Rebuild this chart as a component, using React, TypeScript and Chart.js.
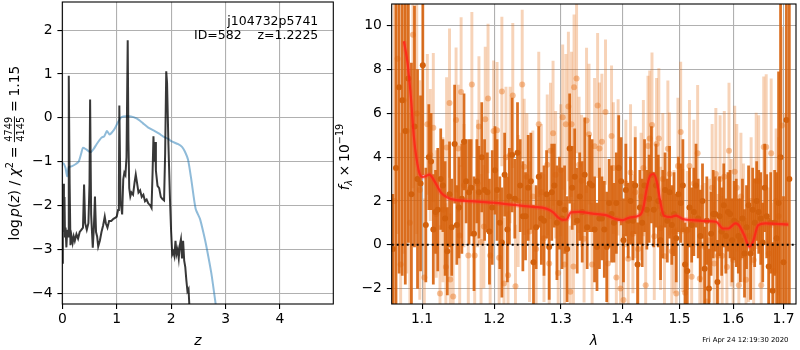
import React, { useEffect, useRef } from 'react';
import { Chart, registerables } from 'chart.js';

Chart.register(...registerables);

const FONT = "'DejaVu Sans'";
const S = 13.9;

// ---------- left panel data ----------
const pzZ = [0.000, 0.010, 0.020, 0.030, 0.040, 0.050, 0.060, 0.075, 0.090, 0.105, 0.115, 0.123, 0.135, 0.150, 0.170, 0.190, 0.210, 0.230, 0.260, 0.290, 0.320, 0.350, 0.380, 0.400, 0.420, 0.450, 0.480, 0.500, 0.511, 0.530, 0.560, 0.580, 0.600, 0.620, 0.640, 0.660, 0.690, 0.720, 0.750, 0.780, 0.800, 0.830, 0.860, 0.900, 0.940, 0.970, 1.000, 1.025, 1.040, 1.048, 1.070, 1.100, 1.120, 1.140, 1.160, 1.180, 1.202, 1.215, 1.230, 1.250, 1.270, 1.300, 1.330, 1.350, 1.370, 1.400, 1.430, 1.460, 1.490, 1.520, 1.550, 1.580, 1.610, 1.640, 1.660, 1.675, 1.690, 1.705, 1.720, 1.750, 1.780, 1.810, 1.840, 1.870, 1.890, 1.910, 1.925, 1.950, 1.980, 2.000, 2.020, 2.040, 2.060, 2.080, 2.100, 2.120, 2.140, 2.160, 2.180, 2.200, 2.220, 2.240, 2.260, 2.280, 2.300, 2.320, 2.340];
const pzLog = [-3.30, -2.20, -1.50, -2.60, -1.80, -2.70, -2.50, -2.95, -2.55, -2.70, -1.00, 0.96, -1.50, -2.90, -2.70, -2.85, -2.70, -2.80, -2.65, -2.75, -2.60, -2.55, -2.50, -1.52, -2.40, -2.55, -2.40, -1.50, 0.42, -2.20, -2.96, -2.50, -1.79, -2.60, -2.70, -2.93, -2.80, -2.60, -2.45, -2.25, -2.40, -2.50, -2.35, -2.35, -2.30, -2.28, -2.25, -2.10, -1.60, 0.28, -1.90, -2.20, -1.40, -1.25, -1.30, -0.90, 1.77, -0.50, -1.60, -1.79, -1.70, -1.75, -1.45, -1.29, -1.45, -1.70, -1.65, -1.80, -1.75, -1.90, -1.86, -1.95, -1.98, -2.05, -1.20, -0.42, -1.00, -0.55, -1.20, -1.55, -1.60, -1.80, -1.85, -1.88, -0.80, 1.06, 0.80, -0.60, -1.90, -2.60, -3.11, -3.05, -3.15, -2.80, -3.10, -3.00, -3.20, -2.90, -2.77, -3.20, -2.80, -3.25, -3.40, -3.70, -3.95, -3.90, -4.40];

const chiZ = [0.00, 0.03, 0.06, 0.09, 0.12, 0.18, 0.25, 0.30, 0.35, 0.38, 0.44, 0.52, 0.58, 0.63, 0.72, 0.77, 0.82, 0.87, 0.92, 0.97, 1.03, 1.09, 1.18, 1.26, 1.32, 1.40, 1.48, 1.58, 1.70, 1.78, 1.85, 1.95, 2.00, 2.13, 2.20, 2.25, 2.31, 2.37, 2.45, 2.53, 2.60, 2.65, 2.74, 2.83];
const chiLog = [-1.03, -1.05, -1.15, -1.33, -1.12, -1.10, -1.05, -1.00, -0.80, -0.68, -0.72, -0.78, -0.70, -0.60, -0.45, -0.42, -0.30, -0.38, -0.32, -0.23, -0.08, 0.02, 0.04, 0.03, 0.01, -0.04, -0.12, -0.22, -0.30, -0.36, -0.42, -0.48, -0.53, -0.60, -0.66, -0.76, -0.95, -1.40, -2.07, -2.30, -2.65, -2.94, -3.55, -4.35];

const leftXTicks = [0, 1, 2, 3, 4];
const leftYTicks = [-4, -3, -2, -1, 0, 1, 2];
const annotLine1 = 'j104732p5741';
const annotLine2 = 'ID=582    z=1.2225';

// ---------- right panel data ----------
const darkWave = [
  1.062, 1.066, 1.070, 1.074, 1.078, 1.082, 1.086, 1.090, 1.094, 1.098,
  1.101, 1.105, 1.109, 1.112, 1.115, 1.118, 1.121, 1.125, 1.128, 1.131,
  1.134, 1.137, 1.140, 1.144, 1.147, 1.150, 1.154, 1.157, 1.160, 1.164,
  1.167, 1.171, 1.175, 1.178, 1.182, 1.186, 1.190, 1.193, 1.197, 1.201,
  1.204, 1.208, 1.211, 1.215, 1.219, 1.222, 1.226, 1.230, 1.234, 1.238,
  1.242, 1.246, 1.250, 1.254, 1.258, 1.262, 1.266, 1.270, 1.274, 1.278,
  1.282, 1.286, 1.290, 1.294, 1.298, 1.302, 1.306, 1.310, 1.314, 1.318,
  1.322, 1.326, 1.330, 1.334, 1.338, 1.342, 1.346, 1.350, 1.354, 1.358,
  1.362, 1.366, 1.370, 1.374, 1.378, 1.382, 1.386, 1.390, 1.394, 1.398,
  1.402, 1.406, 1.410, 1.414, 1.418, 1.422, 1.426, 1.430, 1.434, 1.438,
  1.442, 1.446, 1.450, 1.454, 1.458, 1.462, 1.466, 1.470, 1.474, 1.478,
  1.482, 1.486, 1.490, 1.494, 1.498, 1.502, 1.506, 1.510, 1.514, 1.518,
  1.522, 1.526, 1.530, 1.534, 1.538, 1.542, 1.546, 1.550, 1.554, 1.558,
  1.562, 1.566, 1.570, 1.574, 1.578, 1.582, 1.586, 1.590, 1.594, 1.598,
  1.602, 1.606, 1.610, 1.614, 1.618, 1.622, 1.626, 1.630, 1.634, 1.638,
  1.642, 1.646, 1.650, 1.654, 1.658, 1.662, 1.666, 1.670, 1.674, 1.678,
  1.682, 1.686, 1.690, 1.694, 1.700, 1.706, 1.712,
];
const darkFlux = [
  -0.2, 3.5, 7.2, 6.6, 5.2, 7.6, 2.3, 5.4, 3.0, 2.8,
  8.2, 0.9, 4.0, 3.8, 0.7, 1.5, 1.6, 3.0, 2.7, 1.2,
  -0.3, 2.3, 0.8, 4.6, 0.9, 1.7, 2.1, 4.7, 2.9, 2.4,
  2.6, 0.5, 2.9, 2.4, 4.0, 2.5, 2.4, 0.6, 1.7, 3.4,
  2.5, 1.0, 0.1, 3.2, 0.7, 2.2, 4.1, 2.1, 4.2, 2.7,
  1.3, 1.3, 2.6, 2.9, -0.8, 0.8, 3.1, 1.2, 1.1, 2.3,
  -0.1, 2.4, 2.7, 1.0, 1.9, 1.2, 1.6, -0.2, 4.4, 2.6,
  3.1, 1.1, 2.2, 1.5, 3.2, 0.8, 2.8, 2.7, 0.7, -0.1,
  1.2, 1.2, 0.7, -0.1, 1.9, 1.4, 1.0, 1.9, 3.5, 2.9,
  0.2, 2.5, 1.1, 2.0, 1.1, 2.7, -0.9, 1.7, 1.0, 2.7,
  1.6, 2.1, 3.2, 1.6, 2.7, 2.0, 0.2, 1.4, 2.5, 1.1,
  2.4, 0.9, 1.4, 0.3, 2.3, 1.9, 2.7, -0.9, -1.2, 1.7,
  0.9, 1.5, 2.7, 1.2, 0.4, 2.0, -1.1, 1.1, -2.0, 0.5,
  1.4, 1.4, -1.7, 1.3, 0.6, 1.8, 0.4, 1.5, 1.4, 0.2,
  1.1, 1.0, 0.4, 0.2, 1.2, -0.4, 0.8, 1.8, -0.4, 1.6,
  1.0, 2.0, 1.5, 1.2, 0.1, 2.6, 1.3, -1.0, 1.0, -2.1,
  1.0, 0.3, 1.9, 4.0, -0.8, 5.7, 3.0,
];
const darkErr = [
  2.5, 9.5, 8.5, 8.0, 7.0, 7.5, 6.0, 5.5, 5.0, 4.0,
  5.0, 2.6, 2.4, 2.2, 2.5, 1.9, 2.8, 2.3, 2.1, 2.6,
  2.0, 2.4, 2.2, 2.7, 1.8, 2.3, 2.5, 2.2, 1.9, 2.4,
  2.2, 2.6, 1.9, 2.1, 2.5, 2.3, 1.8, 2.4, 2.6, 2.0,
  2.3, 2.1, 2.5, 1.9, 2.4, 2.2, 2.6, 1.8, 2.3, 2.1,
  2.5, 2.0, 2.4, 2.2, 2.6, 1.9, 2.3, 2.1, 2.5, 2.0,
  2.4, 2.2, 1.9, 2.6, 2.1, 2.3, 2.0, 2.4, 2.5, 1.9,
  2.2, 2.4, 2.0, 2.3, 2.6, 1.9, 2.2, 2.1, 2.4, 2.0,
  2.3, 1.9, 2.2, 2.5, 2.0, 2.2, 1.8, 2.3, 2.4, 2.0,
  1.9, 2.1, 1.7, 2.0, 1.8, 2.2, 1.9, 1.7, 2.0, 2.1,
  1.8, 2.0, 2.2, 1.7, 1.9, 2.1, 1.8, 2.0, 1.7, 1.9,
  2.1, 1.8, 1.9, 2.0, 1.7, 1.8, 2.1, 1.9, 2.0, 1.8,
  1.7, 2.0, 1.9, 1.8, 2.1, 1.7, 1.9, 2.0, 1.8, 1.9,
  2.0, 1.7, 1.9, 1.8, 2.0, 1.9, 1.7, 1.8, 2.0, 1.9,
  1.8, 2.0, 1.7, 1.9, 1.8, 2.0, 1.9, 1.8, 2.1, 1.9,
  2.0, 1.8, 1.9, 2.1, 1.8, 2.0, 1.9, 2.2, 2.3, 2.2,
  2.4, 3.0, 6.0, 12.0, 3.0, 11.0, 10.0,
];

const lightWave = [
  1.064, 1.068, 1.072, 1.076, 1.080, 1.084, 1.088, 1.093, 1.097, 1.103,
  1.107, 1.111, 1.115, 1.119, 1.124, 1.128, 1.132, 1.133, 1.137, 1.138,
  1.142, 1.146, 1.149, 1.151, 1.153, 1.157, 1.163, 1.168, 1.172, 1.176,
  1.178, 1.181, 1.185, 1.187, 1.191, 1.194, 1.199, 1.204, 1.207, 1.211,
  1.214, 1.217, 1.220, 1.223, 1.227, 1.231, 1.235, 1.241, 1.244, 1.248,
  1.252, 1.257, 1.262, 1.266, 1.270, 1.274, 1.279, 1.282, 1.284, 1.288,
  1.292, 1.296, 1.300, 1.303, 1.306, 1.308, 1.312, 1.315, 1.317, 1.320,
  1.321, 1.325, 1.329, 1.333, 1.337, 1.341, 1.345, 1.350, 1.354, 1.359,
  1.362, 1.366, 1.372, 1.376, 1.382, 1.385, 1.390, 1.393, 1.397, 1.402,
  1.406, 1.410, 1.414, 1.418, 1.422, 1.427, 1.432, 1.436, 1.440, 1.444,
  1.447, 1.451, 1.455, 1.459, 1.463, 1.466, 1.470, 1.473, 1.479, 1.482,
  1.486, 1.490, 1.494, 1.497, 1.502, 1.506, 1.510, 1.514, 1.518, 1.522,
  1.526, 1.533, 1.537, 1.541, 1.546, 1.550, 1.555, 1.560, 1.564, 1.567,
  1.571, 1.575, 1.579, 1.583, 1.588, 1.592, 1.596, 1.600, 1.603, 1.607,
  1.611, 1.615, 1.620, 1.625, 1.630, 1.635, 1.640, 1.645, 1.650, 1.655,
  1.660, 1.665, 1.670, 1.675, 1.680, 1.685, 1.690, 1.697, 1.703,
];
const lightFlux = [
  2.0, 8.5, -0.9, 6.6, 5.2, 1.0, 9.6, 6.0, 2.5, -1.5,
  5.5, 4.1, 5.35, 1.4, -2.23, 1.6, -1.02, 4.44, 6.47, -1.59,
  -2.37, 5.7, 4.4, 0.42, 6.98, 2.7, -0.49, 7.32, -0.49, 2.8,
  5.4, 0.12, 0.83, 5.73, 6.68, -0.49, 5.2, 5.23, -0.6, 7.0,
  -1.77, 4.0, -1.4, 4.1, 6.82, -1.9, 2.0, 7.32, 3.56, 3.1,
  0.6, 2.2, -0.2, 5.5, 2.4, 0.3, 3.65, -0.86, 4.29, 5.09,
  3.2, -1.29, 3.4, 5.83, -0.9, 5.5, 6.32, -2.15, 5.5, -1.0,
  7.2, 7.59, 3.65, 2.92, 0.27, 5.68, 5.05, -0.9, 4.5, 6.36,
  4.4, 4.7, 6.06, -0.86, 4.97, 3.5, -1.5, 3.53, -2.0, -2.53,
  2.8, -0.64, 3.3, 0.5, 2.4, -0.2, 2.2, 3.5, -1.85, 4.51,
  4.85, 5.47, 0.39, 4.6, 4.85, 0.75, 3.0, -0.53, 4.39, 3.23,
  -0.3, 0.6, -2.23, 3.6, 5.15, 0.65, -2.2, 0.65, 3.6, -1.47,
  2.8, 4.18, -1.55, 0.0, -0.1, -2.6, 0.2, 2.6, -0.86, 3.23,
  -0.5, 3.0, -0.5, 3.1, -1.02, 4.29, 1.0, -0.7, 3.33, 2.6,
  -1.85, 2.2, 1.0, -1.6, 0.4, 2.0, -0.7, 2.92, 2.9, -1.85,
  4.47, 4.47, -0.4, 4.18, -1.2, 2.0, 1.3, 5.45, 1.0,
];
const lightErr = [
  9.0, 8.0, 6.0, 7.0, 6.5, 5.0, 7.0, 5.5, 5.0, 3.6,
  3.2, 3.0, 3.4, 2.9, 3.1, 3.3, 2.9, 3.2, 3.4, 3.0,
  3.1, 3.3, 2.9, 3.2, 3.4, 2.8, 3.1, 3.3, 3.0, 2.9,
  3.2, 3.1, 2.8, 3.3, 3.4, 3.0, 3.2, 3.1, 2.9, 3.4,
  3.0, 3.2, 2.9, 3.1, 3.3, 2.8, 3.0, 3.4, 3.1, 2.9,
  3.2, 3.0, 2.8, 3.3, 3.1, 2.9, 3.2, 3.0, 3.1, 3.3,
  2.9, 3.1, 3.0, 3.3, 2.8, 3.2, 3.4, 3.0, 3.3, 2.9,
  3.3, 3.4, 3.1, 3.0, 2.9, 3.3, 3.2, 2.8, 3.1, 3.3,
  3.0, 3.1, 3.3, 2.9, 3.2, 3.0, 2.8, 3.1, 2.9, 3.0,
  2.9, 2.8, 3.1, 2.7, 3.0, 2.8, 2.9, 3.1, 2.8, 3.2,
  3.1, 3.3, 2.9, 3.0, 3.2, 2.8, 3.0, 2.9, 3.1, 2.8,
  2.9, 2.8, 3.0, 3.1, 3.2, 2.8, 2.9, 2.7, 3.0, 2.8,
  2.9, 3.1, 2.8, 2.7, 2.9, 3.0, 2.8, 2.9, 2.8, 3.0,
  2.8, 2.9, 2.7, 3.0, 2.8, 3.1, 2.9, 2.8, 3.0, 2.9,
  2.8, 2.9, 2.7, 2.8, 3.0, 2.9, 2.8, 3.1, 3.0, 2.9,
  3.2, 3.3, 3.0, 3.4, 3.1, 3.3, 3.6, 4.5, 5.0,
];

const modelWave = [1.0762, 1.0810, 1.0857, 1.0890, 1.0925, 1.0969, 1.1010, 1.1060, 1.1098, 1.1163, 1.1251, 1.1341, 1.1430, 1.1657, 1.1981, 1.2285, 1.2572, 1.2773, 1.2872, 1.2972, 1.3025, 1.3090, 1.3160, 1.3290, 1.3508, 1.3726, 1.3894, 1.4006, 1.4121, 1.4298, 1.4357, 1.4417, 1.4477, 1.4537, 1.4597, 1.4658, 1.4719, 1.4843, 1.4936, 1.5061, 1.5220, 1.5478, 1.5674, 1.5806, 1.5907, 1.6042, 1.6110, 1.6213, 1.6317, 1.6387, 1.6492, 1.6632, 1.7101];
const modelFlux = [9.3, 8.3, 6.56, 5.0, 3.98, 3.23, 3.10, 3.15, 3.2, 2.92, 2.39, 2.16, 2.06, 1.99, 1.92, 1.82, 1.73, 1.65, 1.5, 1.21, 1.14, 1.15, 1.48, 1.5, 1.42, 1.35, 1.17, 1.12, 1.24, 1.35, 1.65, 2.55, 3.15, 3.23, 2.85, 1.94, 1.33, 1.26, 1.33, 1.17, 1.12, 1.08, 1.05, 0.74, 0.74, 0.97, 0.89, 0.44, -0.09, 0.14, 0.89, 0.97, 0.92];

const rightXTicks = [1.1, 1.2, 1.3, 1.4, 1.5, 1.6, 1.7];
const rightYTicks = [-2, 0, 2, 4, 6, 8, 10];
const rightXRange = [1.0605, 1.7258];
const dateText = 'Fri Apr 24 12:19:30 2020';

// ---------- helpers ----------
type Seg = { t?: string; s?: number; it?: boolean; dy?: number; gap?: number; num?: string; den?: string };

function fontOf(s: number, it?: boolean) {
  return `${it ? 'italic ' : ''}${s}px ${FONT}`;
}

function segW(ctx: CanvasRenderingContext2D, g: Seg) {
  if (g.gap !== undefined) return g.gap;
  if (g.num !== undefined) {
    ctx.font = fontOf(g.s!);
    return Math.max(ctx.measureText(g.num).width, ctx.measureText(g.den!).width) + 2;
  }
  ctx.font = fontOf(g.s!, g.it);
  return ctx.measureText(g.t!).width;
}

function drawRotated(ctx: CanvasRenderingContext2D, segs: Seg[], cx: number, cy: number) {
  ctx.save();
  ctx.translate(cx, cy);
  ctx.rotate(-Math.PI / 2);
  ctx.textBaseline = 'alphabetic';
  ctx.textAlign = 'left';
  ctx.fillStyle = '#000';
  const ws = segs.map((g) => segW(ctx, g));
  const total = ws.reduce((a, b) => a + b, 0);
  let x = -total / 2;
  segs.forEach((g, i) => {
    const w = ws[i];
    if (g.num !== undefined) {
      ctx.font = fontOf(g.s!);
      ctx.textAlign = 'center';
      const barY = -0.33 * S;
      ctx.fillText(g.num, x + w / 2, barY - 0.16 * S);
      ctx.fillText(g.den!, x + w / 2, barY + 0.16 * S + 0.73 * g.s!);
      ctx.fillRect(x + 0.5, barY - 0.45, w - 1, 0.9);
      ctx.textAlign = 'left';
    } else if (g.t) {
      ctx.font = fontOf(g.s!, g.it);
      ctx.fillText(g.t, x, g.dy || 0);
    }
    x += w;
  });
  ctx.restore();
}

const sub = 0.7 * S;
const leftLabel: Seg[] = [
  { t: 'log', s: S }, { gap: 0.17 * S }, { t: 'p', s: S, it: true }, { t: '(', s: S }, { t: 'z', s: S, it: true }, { t: ')', s: S },
  { t: ' / ', s: S }, { t: 'χ', s: S, it: true }, { t: '2', s: sub, dy: -0.42 * S }, { gap: 0.28 * S }, { t: '=', s: S }, { gap: 0.28 * S },
  { num: '4749', den: '4145', s: sub }, { gap: 0.28 * S }, { t: '=', s: S }, { gap: 0.28 * S }, { t: '1.15', s: S },
];
const rightLabel: Seg[] = [
  { t: 'f', s: S, it: true }, { t: 'λ', s: sub, it: true, dy: 0.22 * S }, { gap: 0.22 * S }, { t: '×', s: S }, { gap: 0.22 * S },
  { t: '10', s: S }, { t: '−19', s: sub, dy: -0.42 * S },
];

const fmtNum = (v: number) => (v < 0 ? '\u2212' + Math.abs(v) : String(v));

function axisBase(ticksArr: number[], fit: (s: any) => void, fmt: (v: number) => string, pad: number) {
  return {
    afterBuildTicks: (s: any) => { s.ticks = ticksArr.map((v) => ({ value: v })); },
    afterFit: fit,
    ticks: { font: { family: FONT, size: S }, color: '#000', padding: pad, maxRotation: 0, minRotation: 0, autoSkip: false, callback: (v: any) => fmt(Number(v)) },
    grid: { color: '#b0b0b0', lineWidth: 1.1, tickColor: '#000', tickLength: 4.9, tickWidth: 1.1, offset: false, drawOnChartArea: true },
    border: { display: false },
    offset: false,
  };
}

const fitX = (s: any) => { s.height = 46; s.paddingLeft = 0; s.paddingRight = 0; s.paddingTop = 0; s.paddingBottom = 0; };
const fitY = (w: number) => (s: any) => { s.width = w; s.paddingTop = 0; s.paddingBottom = 0; s.paddingLeft = 0; s.paddingRight = 0; };

function frame(chart: any) {
  const { ctx, chartArea: a } = chart;
  ctx.save();
  ctx.strokeStyle = '#000';
  ctx.lineWidth = 1.1;
  ctx.strokeRect(a.left, a.top, a.right - a.left, a.bottom - a.top);
  ctx.restore();
}

const leftDecor = {
  id: 'leftDecor',
  afterDraw(chart: any) {
    frame(chart);
    const { ctx, chartArea: a } = chart;
    ctx.save();
    ctx.fillStyle = '#000';
    ctx.font = `12.5px ${FONT}`;
    ctx.textAlign = 'right';
    ctx.textBaseline = 'alphabetic';
    ctx.fillText(annotLine1, a.right - 15, 24.5);
    ctx.fillText(annotLine2, a.right - 15, 39.3);
    ctx.font = fontOf(S, true);
    ctx.textAlign = 'center';
    ctx.fillText('z', (a.left + a.right) / 2, 345);
    ctx.restore();
    drawRotated(ctx, leftLabel, 19, (a.top + a.bottom) / 2);
  },
};

const RIGHT_LEFT = 325;

const rightDecor = {
  id: 'rightDecor',
  afterDraw(chart: any) {
    frame(chart);
    const { ctx, chartArea: a } = chart;
    ctx.save();
    ctx.fillStyle = '#000';
    ctx.font = fontOf(S, true);
    ctx.textAlign = 'center';
    ctx.textBaseline = 'alphabetic';
    ctx.fillText('λ', (a.left + a.right) / 2, 345);
    ctx.font = `6.9px ${FONT}`;
    ctx.textAlign = 'right';
    ctx.fillText(dateText, 788.5 - RIGHT_LEFT, 342);
    ctx.restore();
    drawRotated(ctx, rightLabel, 349 - RIGHT_LEFT, 157);
  },
};

export default function App() {
  const leftRef = useRef<HTMLCanvasElement>(null);
  const rightRef = useRef<HTMLCanvasElement>(null);

  useEffect(() => {
    const common = {
      animation: false as const,
      responsive: false,
      events: [] as any[],
      plugins: { legend: { display: false }, tooltip: { enabled: false } },
    };

    const left = new Chart(leftRef.current!, {
      type: 'line',
      data: {
        datasets: [
          { data: pzZ.map((z, i) => ({ x: z, y: pzLog[i] })), borderColor: 'rgba(0,0,0,0.78)', borderWidth: 2, pointRadius: 0, tension: 0, order: 1 },
          { data: chiZ.map((z, i) => ({ x: z, y: chiLog[i] })), borderColor: 'rgba(31,119,180,0.5)', borderWidth: 2, pointRadius: 0, tension: 0.2, order: 2 },
        ],
      },
      options: {
        ...common,
        layout: { padding: { top: 2, right: 6.7, left: 0, bottom: 0 } },
        scales: {
          x: { type: 'linear', min: 0, max: 4.98, ...axisBase(leftXTicks, fitX, (v) => String(v), 2.5) },
          y: { type: 'linear', min: -4.24, max: 2.64, ...axisBase(leftYTicks, fitY(62.3), fmtNum, 4.9) },
        },
      } as any,
      plugins: [leftDecor],
    });

    const right = new Chart(rightRef.current!, {
      type: 'bar',
      data: {
        datasets: [
          { type: 'line', data: [{ x: rightXRange[0], y: 0 }, { x: rightXRange[1], y: 0 }], borderColor: '#000', borderWidth: 2, borderDash: [2, 3], pointRadius: 0, order: 1 },
          { type: 'line', data: modelWave.map((w, i) => ({ x: w, y: modelFlux[i] })), borderColor: 'rgba(255,35,25,0.85)', borderWidth: 2.2, pointRadius: 0, cubicInterpolationMode: 'monotone', order: 2 },
          { type: 'line', data: modelWave.map((w, i) => ({ x: w, y: modelFlux[i] })), borderColor: 'rgba(255,60,50,0.3)', borderWidth: 5, pointRadius: 0, cubicInterpolationMode: 'monotone', order: 3 },
          { type: 'line', data: darkWave.map((w, i) => ({ x: w, y: darkFlux[i] })), showLine: false, pointRadius: 3, pointBackgroundColor: '#d2600c', pointBorderWidth: 0, order: 4 },
          { type: 'bar', data: darkWave.map((w, i) => ({ x: w, y: [darkFlux[i] - darkErr[i], darkFlux[i] + darkErr[i]] })), backgroundColor: 'rgba(215,98,12,0.9)', borderWidth: 0, barThickness: 2.1, grouped: false, order: 5 },
          { type: 'line', data: lightWave.map((w, i) => ({ x: w, y: lightFlux[i] })), showLine: false, pointRadius: 3, pointBackgroundColor: 'rgba(230,110,20,0.42)', pointBorderWidth: 0, order: 6 },
          { type: 'bar', data: lightWave.map((w, i) => ({ x: w, y: [lightFlux[i] - lightErr[i], lightFlux[i] + lightErr[i]] })), backgroundColor: 'rgba(230,110,20,0.3)', borderWidth: 0, barThickness: 2.3, grouped: false, order: 7 },
        ],
      },
      options: {
        ...common,
        layout: { padding: { top: 2, right: 0.7, left: 0, bottom: 0 } },
        scales: {
          x: { type: 'logarithmic', min: rightXRange[0], max: rightXRange[1], ...axisBase(rightXTicks, fitX, (v) => v.toFixed(1), 2.5) },
          y: { type: 'linear', min: -2.71, max: 11.0, ...axisBase(rightYTicks, fitY(391.7 - RIGHT_LEFT), fmtNum, 4.9) },
        },
      } as any,
      plugins: [rightDecor],
    });

    return () => {
      left.destroy();
      right.destroy();
    };
  }, []);

  return (
    <div style={{ position: 'fixed', left: 0, top: 0, width: 800, height: 350, background: '#fff' }}>
      <canvas ref={leftRef} width={340} height={350} style={{ position: 'absolute', left: 0, top: 0, width: 340, height: 350 }} />
      <canvas ref={rightRef} width={800 - RIGHT_LEFT} height={350} style={{ position: 'absolute', left: RIGHT_LEFT, top: 0, width: 800 - RIGHT_LEFT, height: 350 }} />
    </div>
  );
}
